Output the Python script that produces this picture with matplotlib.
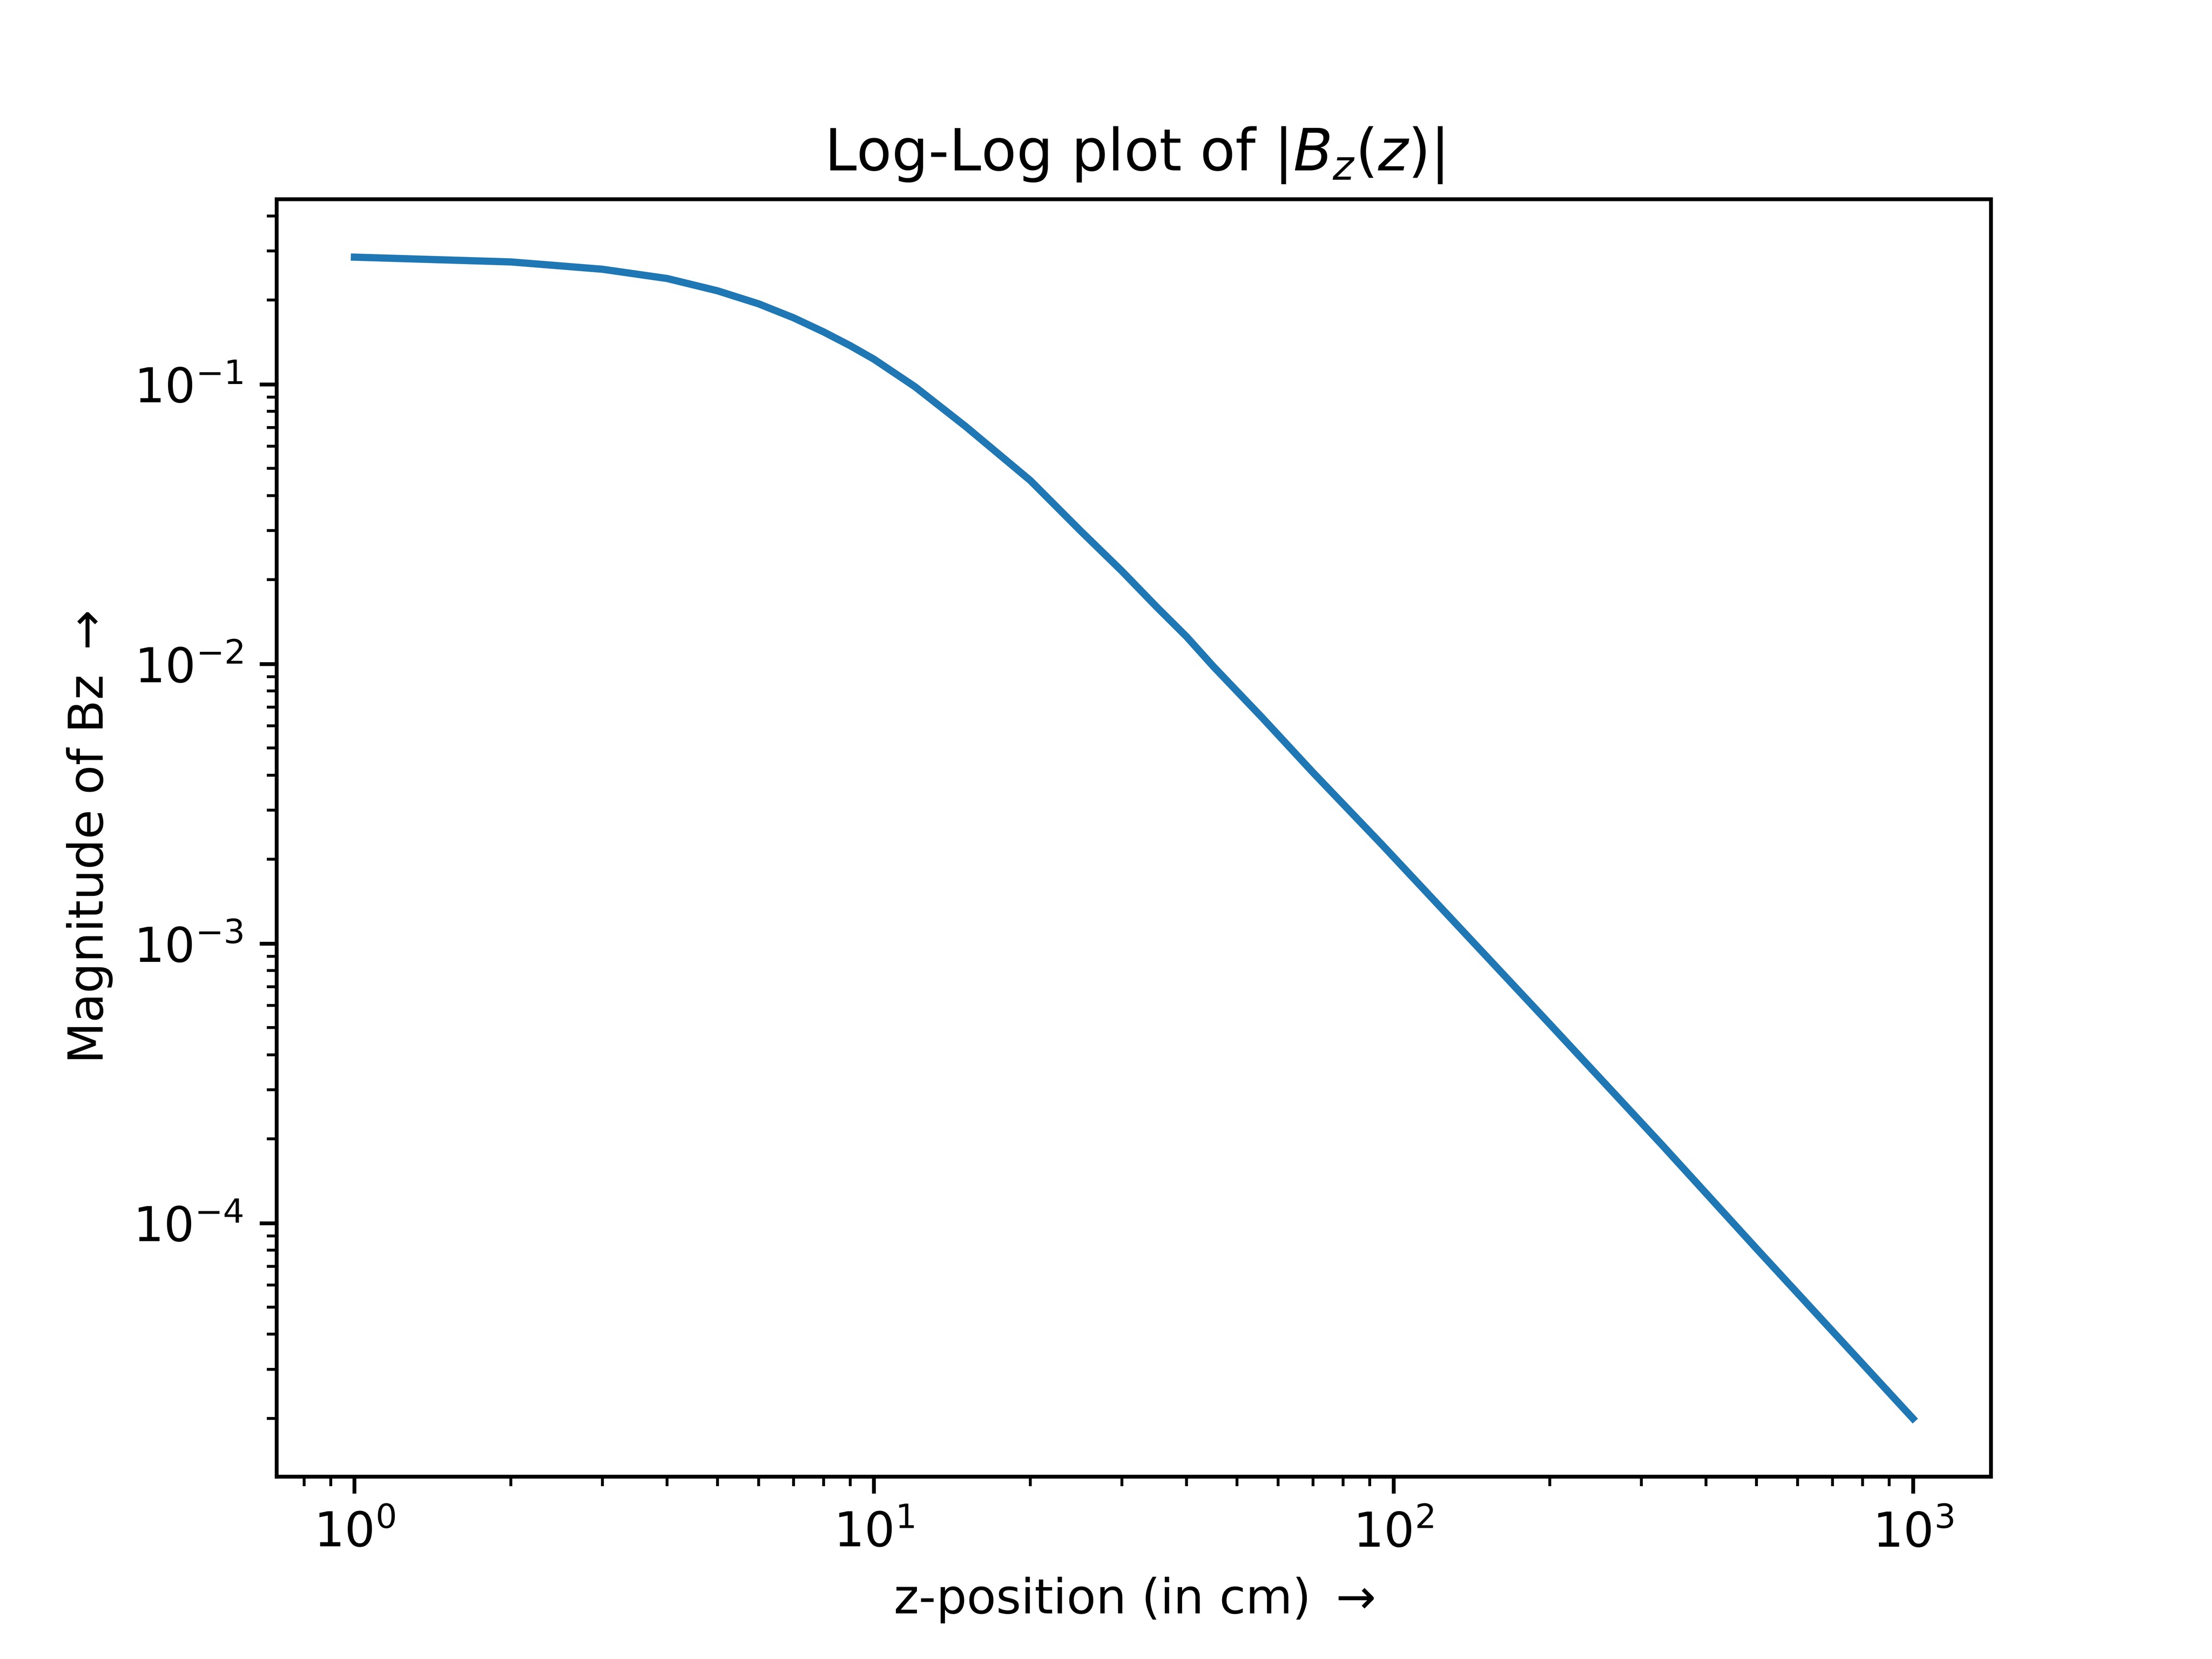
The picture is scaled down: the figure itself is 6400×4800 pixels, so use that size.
import numpy as np
import matplotlib
matplotlib.use("Agg")
import matplotlib.pyplot as plt

# z positions (cm) and |Bz|
z = [1, 2, 3, 4, 5, 6, 7, 8, 9, 10, 12, 15, 20, 25, 30, 35, 40, 45, 56, 70,
     95, 200, 330, 500, 1000]
bz = [0.285, 0.274, 0.258, 0.239, 0.216, 0.194, 0.173, 0.154, 0.1375, 0.123,
      0.098, 0.0708, 0.0453, 0.0299, 0.0215, 0.0160, 0.0125, 0.0098,
      0.0064, 0.00409, 0.00226, 5.15e-4, 1.89e-4, 8.1e-5, 2.0e-5]

fig, ax = plt.subplots()
ax.loglog(z, bz)
ax.set_title(r"Log-Log plot of $|B_z(z)|$")
ax.set_xlabel(r"z-position (in cm) $\rightarrow$")
ax.set_ylabel(r"Magnitude of Bz $\rightarrow$")
fig.savefig("out.png", dpi=1000)
